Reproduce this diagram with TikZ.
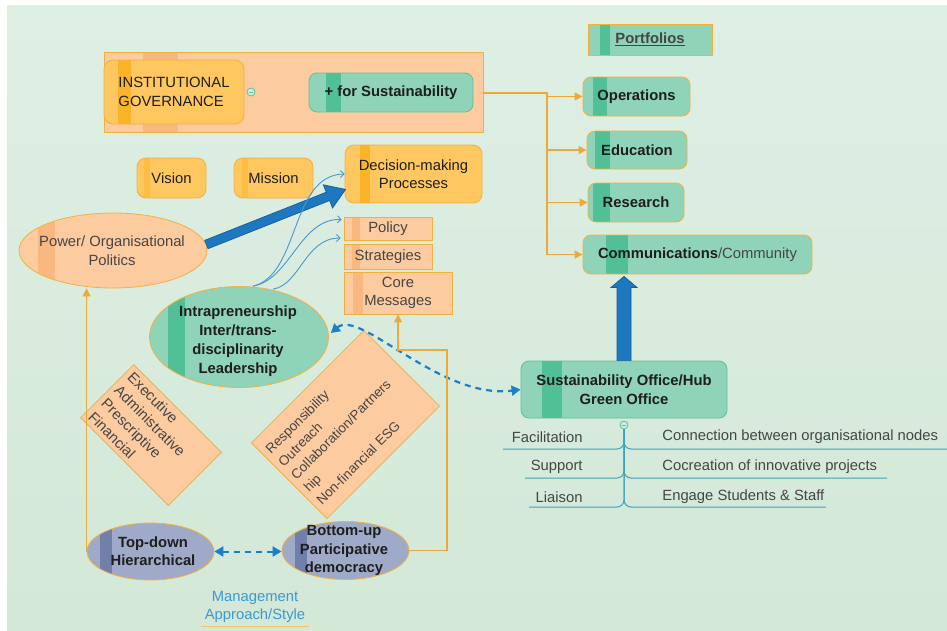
\documentclass[tikz,border=0pt]{standalone}
\usepackage{fontspec}
\setmainfont{Liberation Sans}
\usetikzlibrary{shapes.geometric,arrows.meta,calc}
\definecolor{bgtop}{HTML}{DEEFE4}
\definecolor{bgbot}{HTML}{D3E8D7}
\definecolor{peach}{HTML}{FDCBA0}
\definecolor{peachd}{HTML}{F9B880}
\definecolor{ornb}{HTML}{F2B13F}
\definecolor{ornl}{HTML}{EFA93A}
\definecolor{yel}{HTML}{FFC75F}
\definecolor{yeld}{HTML}{FBB42A}
\definecolor{grn}{HTML}{8FD3B8}
\definecolor{grnd}{HTML}{52C096}
\definecolor{grnb}{HTML}{5CC39C}
\definecolor{blu}{HTML}{1E78BF}
\definecolor{blud}{HTML}{175E96}
\definecolor{dblu}{HTML}{1C80C6}
\definecolor{tblu}{HTML}{4C96D0}
\definecolor{tlc}{HTML}{3CA2BE}
\definecolor{gb}{HTML}{9FAAC9}
\definecolor{gbd}{HTML}{7180AA}
\definecolor{txt}{HTML}{1E1E1E}
\definecolor{txtg}{HTML}{454545}
\definecolor{mgmt}{HTML}{3A9AD2}
\definecolor{uline}{HTML}{EFC66A}
\tikzset{
  stripe/.style n args={3}{path picture={\fill[#1, sharp corners] ([xshift=#2]path picture bounding box.north west) rectangle ([xshift=#3]path picture bounding box.south west);}},
  base/.style={font=\fontsize{14.8}{18.5}\selectfont, text=txt, align=center, inner sep=0pt, line width=0.8pt},
  boldf/.style={font=\fontsize{14.8}{18.5}\selectfont\bfseries},
  ybox/.style={base, rectangle, draw=ornb, fill=yel, rounded corners=9pt},
  gbox/.style={base, rectangle, draw=ornb, fill=grn, rounded corners=8pt, boldf},
  pbox/.style={base, rectangle, draw=ornb, fill=peach, text=txtg},
  ell/.style={base, ellipse, draw=ornb},
  oline/.style={draw=ornl, line width=1.3pt},
  oarrow/.style={oline, -{Triangle[length=8pt,width=8pt]}},
  thinarrow/.style={draw=tblu, line width=0.9pt, -{Straight Barb[length=3.5pt,width=7pt]}},
  dasharrow/.style={draw=dblu, line width=2.2pt, dash pattern=on 6pt off 5pt, {Triangle[length=9pt,width=10pt]}-{Triangle[length=9pt,width=10pt]}},
  blockarrow/.style={draw=blud, fill=blu, line width=0.7pt, line join=miter},
  tl/.style={draw=tlc, line width=1pt, rounded corners=7pt},
  minus/.style={circle, draw=grnb, fill=white!55!grn, minimum size=8pt, inner sep=0pt, line width=0.8pt}
}
\begin{document}
\begin{tikzpicture}[x=1pt,y=-1pt]
\useasboundingbox (0,0) rectangle (947,630);
\fill[white] (0,0) rectangle (947,630);
\shade[top color=bgtop, bottom color=bgbot] (7,5) rectangle (947,630);

% governance
\node[pbox, minimum width=379pt, minimum height=80pt, stripe={peachd}{39pt}{74pt}] (govbox) at (293.5,92) {};
\node[ybox, minimum width=140pt, minimum height=64pt, stripe={yeld}{14pt}{27pt}, align=left] (gov) at (174,92) {INSTITUTIONAL\\GOVERNANCE};
\node[minus] (gmin) at (251,92) {};
\draw[grnb, line width=0.8pt] ([xshift=-2.2pt]gmin.center) -- ([xshift=2.2pt]gmin.center);
\node[gbox, draw=grnb, minimum width=164pt, minimum height=39pt, stripe={grnd}{17pt}{32pt}] (sust) at (391,92.5) {+ for Sustainability};

% portfolios
\node[base, rectangle, draw=ornb, fill=grn, minimum width=124pt, minimum height=31pt, stripe={grnd}{12pt}{22pt}, boldf, text=txtg] (port) at (650,39.5) {\underline{Portfolios}};
\node[gbox, minimum width=107pt, minimum height=39pt, stripe={grnd}{10pt}{24pt}] (ops) at (636.5,96.5) {Operations};
\node[gbox, minimum width=100pt, minimum height=38pt, stripe={grnd}{8pt}{23pt}] (edu) at (637,150) {Education};
\node[gbox, minimum width=96pt, minimum height=39pt, stripe={grnd}{5pt}{22pt}] (res) at (636,202.5) {Research};
\node[gbox, minimum width=229pt, minimum height=39pt, stripe={grnd}{23pt}{45pt}] (comm) at (697.5,254.5) {Communications\textmd{\color{txtg}/Community}};

\coordinate (tj) at (547,93);
\draw[oline] (govbox.east |- tj) -- (tj) -- (tj |- comm.west);
\draw[oarrow] (tj |- ops.west) -- (ops.west);
\draw[oarrow] (tj |- edu.west) -- (edu.west);
\draw[oarrow] (tj |- res.west) -- (res.west);
\draw[oarrow] (tj |- comm.west) -- (comm.west);

% vision mission decision
\node[ybox, minimum width=69pt, minimum height=40pt, stripe={yeld!50!yel}{7pt}{13pt}] (vis) at (171.5,178) {Vision};
\node[ybox, minimum width=79pt, minimum height=40pt, stripe={yeld!50!yel}{8pt}{14pt}] (mis) at (273.5,178) {Mission};
\node[ybox, minimum width=137pt, minimum height=58pt, stripe={yeld}{15pt}{25pt}] (dec) at (413.5,174) {Decision-making\\Processes};

\node[pbox, minimum width=88pt, minimum height=23pt, stripe={peachd}{8pt}{16pt}] (pol) at (388,228.5) {Policy};
\node[pbox, minimum width=88pt, minimum height=25pt, stripe={peachd}{8pt}{16pt}] (str) at (388,256.5) {Strategies};
\node[pbox, minimum width=108pt, minimum height=42pt, stripe={peachd}{9pt}{19pt}] (core) at (398,293) {Core\\Messages};

% power
\node[ell, fill=peach, minimum width=188pt, minimum height=75pt, stripe={peachd}{19pt}{36pt}] (power) at (113,250.5) {};
\node[base, text=txtg] (power-t) at (112,250.5) {Power/ Organisational\\Politics};

% intrapreneurship
\node[ell, fill=grn, minimum width=179pt, minimum height=101pt, stripe={grnd}{18pt}{35pt}] (intr) at (239,337) {};
\node[base, boldf, font=\fontsize{14.8}{19}\selectfont\bfseries] (intr-t) at (238,341.5) {Intrapreneurship\\Inter/trans-\\disciplinarity\\Leadership};

% big arrow power -> decision
\coordinate (ba1) at ($(power.east)+(-1,-6)$);
\coordinate (ba2) at ($(dec.south west)+(1,-14)$);
\coordinate (bh) at ($(ba2)!19pt!(ba1)$);
\draw[blockarrow] ($(ba1)!4.5pt!90:(ba2)$) -- ($(bh)!4.5pt!90:(ba2)$) -- ($(bh)!12.5pt!90:(ba2)$) -- (ba2) -- ($(bh)!12.5pt!-90:(ba2)$) -- ($(bh)!4.5pt!-90:(ba2)$) -- ($(ba1)!4.5pt!-90:(ba2)$) -- cycle;

% thin curves
\coordinate (c1) at ($(intr.north)+(14,0)$);
\coordinate (c2) at ($(intr.north)+(34,3)$);
\coordinate (p1) at ($(pol.west)+(-2,-9)$);
\coordinate (p2) at ($(pol.west)+(-3,9.5)$);
\draw[thinarrow] (c1) .. controls (300,275) and (290,175) .. (dec.west);
\draw[thinarrow] (c1) .. controls (290,280) and (300,218) .. (p1);
\draw[thinarrow] (c2) .. controls (300,285) and (305,238) .. (p2);

% rotated boxes
\node[pbox, rotate=-45, minimum width=124pt, minimum height=75pt, text width=114pt, align=left, inner xsep=5pt, inner ysep=0pt] (exec) at (151,435) {Executive\\Administrative\\Prescriptive\\Financial};
\node[pbox, rotate=45, minimum width=159pt, minimum height=107pt, text width=148pt, align=left, inner xsep=5.5pt, inner ysep=0pt, font=\fontsize{13.5}{18}\selectfont] (resp) at (345.5,424.5) {Responsibility\\Outreach\\Collaboration/Partners\\hip\\Non-financial ESG};

% office
\node[gbox, draw=grnb, minimum width=206pt, minimum height=57pt, stripe={grnd}{21pt}{41pt}] (office) at (624,389.5) {Sustainability Office/Hub\\Green Office};
\node[minus] (omin) at (624,425) {};
\draw[grnb, line width=0.8pt] ([xshift=-2.2pt]omin.center) -- ([xshift=2.2pt]omin.center);

% up arrow office -> comm
\coordinate (ua1) at (office.north);
\coordinate (ua2) at ($(office.north |- comm.south)+(0,2)$);
\coordinate (uh) at ($(ua2)!11pt!(ua1)$);
\draw[blockarrow] ($(ua1)!7pt!90:(ua2)$) -- ($(uh)!7pt!90:(ua2)$) -- ($(uh)!13pt!90:(ua2)$) -- (ua2) -- ($(uh)!13pt!-90:(ua2)$) -- ($(uh)!7pt!-90:(ua2)$) -- ($(ua1)!7pt!-90:(ua2)$) -- cycle;

% dashed curve
\coordinate (dstart) at ($(intr.east)+(2,-4)$);
\draw[dasharrow] (dstart) .. controls (360,308) and (440,400) .. (office.west);

% tree
\coordinate (fl) at (503,449);
\coordinate (fr) at (947,449);
\coordinate (sl) at (525,478);
\coordinate (sr) at (887,478);
\coordinate (ll) at (529,507);
\coordinate (lr) at (826,507);
\draw[tl] (omin.south) |- (fl);
\draw[tl] (omin.south) |- (fr);
\draw[tl] (omin.south) |- (sl);
\draw[tl] (omin.south) |- (sr);
\draw[tl] (omin.south) |- (ll);
\draw[tl] (omin.south) |- (lr);
\node[base, anchor=east, text=txtg] (fac) at (583,437) {Facilitation};
\node[base, anchor=east, text=txtg] (sup) at (583,467) {Support};
\node[base, anchor=east, text=txtg] (lia) at (583,497) {Liaison};
\node[base, anchor=west, text=txtg] (con) at (662,437) {Connection between organisational nodes};
\node[base, anchor=west, text=txtg] (coc) at (662,467) {Cocreation of innovative projects};
\node[base, anchor=west, text=txtg] (eng) at (662,497) {Engage Students \& Staff};

% management styles
\node[ell, fill=gb, minimum width=127pt, minimum height=57pt, stripe={gbd}{13pt}{25pt}] (tdown) at (150.5,551.5) {};
\node[base, boldf, text=txt] (tdown-t) at (153,551) {Top-down\\Hierarchical};
\node[ell, fill=gb, minimum width=127pt, minimum height=58pt, stripe={gbd}{13pt}{25pt}] (bup) at (345.5,550.5) {};
\node[base, boldf, text=txt] (bup-t) at (344,550.5) {Bottom-up\\Participative\\democracy};
\draw[dasharrow, line width=2pt] (tdown.east) -- (tdown.east -| bup.west);

\draw[oarrow] (tdown.west) -- (tdown.west |- power.south);
\coordinate (bj) at (447,350);
\draw[oarrow] (bup.east) -| (bj) -| (core.south);

\node[base, text=mgmt] (mgmt) at (255,607) {Management\\Approach/Style};
\draw[uline, line width=1.3pt] ($(mgmt.south west)+(-3,3)$) -- ($(mgmt.south east)+(3,3)$);
\end{tikzpicture}
\end{document}
